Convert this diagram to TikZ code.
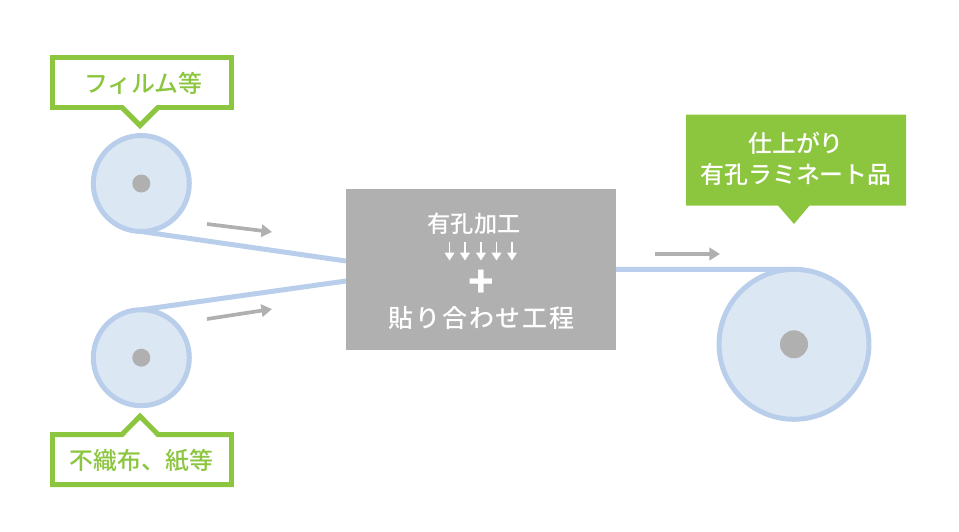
\documentclass[tikz,border=0pt]{standalone}
\usepackage{fontspec}
\setmainfont{Noto Sans CJK JP Medium}
\usetikzlibrary{arrows.meta}
\definecolor{leaf}{HTML}{8CC63F}
\definecolor{slate}{HTML}{B0B0B0}
\definecolor{rollline}{HTML}{B9CEEB}
\definecolor{rollfill}{HTML}{DCE7F4}
\tikzset{
	roll/.style={circle,draw=rollline,fill=rollfill,line width=2.84pt,inner sep=0pt,outer sep=0pt},
	hub/.style={circle,fill=slate,inner sep=0pt,outer sep=0pt},
	belt/.style={rollline,line width=2.84pt},
	feed/.style={slate,line width=2.1pt,-{Triangle[length=6pt,width=7pt]}},
	tag/.style={draw=leaf,fill=white,line width=2.84pt,miter limit=10},
	jp/.style={font=\fontsize{13.6}{17.6}\selectfont,inner sep=0pt}
}
\begin{document}
\begin{tikzpicture}[x=.02cm,y=-.02cm]
	\useasboundingbox (0,0) rectangle (959,531);

	\node[roll,minimum size=1.92cm] (filmroll) at (141.3,183.5) {};
	\node[roll,minimum size=1.92cm] (clothroll) at (141.3,357.7) {};
	\node[roll,minimum size=3cm] (endroll) at (794,344.3) {};
	\node[hub,minimum size=.36cm] (filmhub) at (filmroll) {};
	\node[hub,minimum size=.36cm] (clothhub) at (clothroll) {};
	\node[hub,minimum size=.56cm] (endhub) at (endroll) {};

	\node[fill=slate,minimum width=5.4cm,minimum height=3.22cm,inner sep=0pt,outer sep=0pt] (press) at (481,269.5) {};
	\coordinate (pressa) at (346,261);
	\coordinate (pressb) at (346,281);
	\coordinate (pressc) at (616,269.3);

	\draw[belt] (filmroll.south) -- (pressa);
	\draw[belt] (clothroll.north) -- (pressb);
	\draw[belt] (pressc) -- (endroll.north);

	\coordinate (feeda) at (207,224);
	\coordinate (feedb) at (272,232);
	\coordinate (feedc) at (207,319);
	\coordinate (feedd) at (272,309);
	\coordinate (feede) at (655,254);
	\coordinate (feedf) at (720,254);
	\draw[feed] (feeda) -- (feedb);
	\draw[feed] (feedc) -- (feedd);
	\draw[feed] (feede) -- (feedf);

	\draw[tag] (52.5,57.5) -- (231.5,57.5) -- (231.5,107.5) -- (158,107.5) -- (140,125.5) -- (122,107.5) -- (52.5,107.5) -- cycle;
	\node[jp,text=leaf] (filmtag) at (143.5,83) {フィルム等};

	\draw[tag] (52.5,434.5) -- (122,434.5) -- (140,416.2) -- (158,434.5) -- (231.5,434.5) -- (231.5,484.5) -- (52.5,484.5) -- cycle;
	\node[jp,text=leaf] (clothtag) at (141.5,461) {不織布、紙等};

	\fill[leaf] (686,114.5) -- (906,114.5) -- (906,205.5) -- (809.5,205.5) -- (794,224) -- (778,205.5) -- (686,205.5) -- cycle;
	\node[jp,text=white,align=center] (endtag) at (796,158.5) {仕上がり\\有孔ラミネート品};

	\node[jp,text=white,font=\fontsize{13.2}{17.6}\selectfont] (holes) at (474,224) {有孔加工};
	\foreach \x in {449.5,465,481,496.5,512}
		\draw[white,line width=.95pt,-{Triangle[length=4.5pt,width=5.5pt]}] (\x,241.5) -- (\x,260.5);
	\node[text=white,inner sep=0pt,font=\fontsize{24}{24}\bfseries\selectfont] (plus) at (481,284) {+};
	\node[jp,text=white,font=\fontsize{14.2}{17.6}\selectfont] (bond) at (481.5,318) {\addfontfeature{LetterSpace=8}貼り合わせ工程};
\end{tikzpicture}
\end{document}
